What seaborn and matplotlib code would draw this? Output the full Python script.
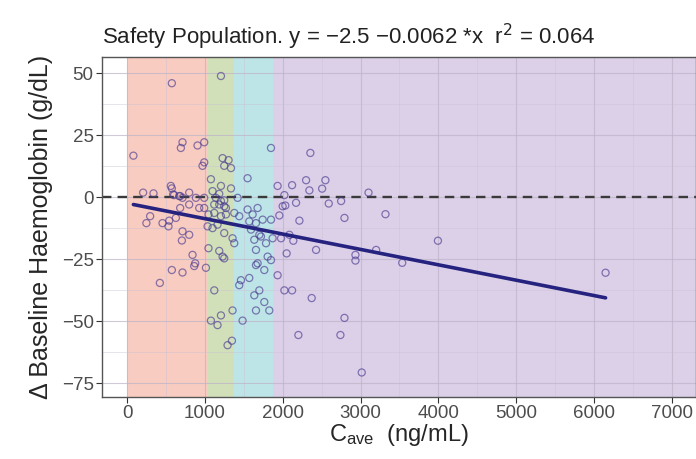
import numpy as np
import pandas as pd
import matplotlib
matplotlib.use("Agg")
import matplotlib.pyplot as plt
import matplotlib.ticker as mticker
import seaborn as sns

# Cave quartile bands (ng/mL) and their fill colours
band_edges = [0, 1040, 1370, 1880, 7400]
band_colors = ["#F9C8BC", "#CFDEB4", "#B8E3E5", "#D9CCE6"]

# regression shown in the title
intercept = -2.5
slope = -0.0062
r_squared = 0.064

# observed points: Cave (ng/mL) and change from baseline Hb (g/dL)
cave = [
    # first quartile
    575, 81, 712, 691, 905, 991, 969, 991, 562, 575, 206, 339, 592, 682, 798,
    712, 884, 991, 682, 798, 927, 296, 248, 455, 541, 627, 532, 798, 704, 841,
    875, 862, 575, 712, 421, 1013, 712, 991, 604, 669,
    # second quartile
    1206, 1227, 1304, 1248, 1335, 1077, 1206, 1335, 1098, 1184, 1141, 1206,
    1120, 1248, 1120, 1270, 1034, 1098, 1162, 1248, 1355, 1046, 1184, 1227,
    1248, 1120, 1077, 1162, 1206, 1291, 1347, 1184, 1248, 1270, 1046, 1206,
    # third quartile
    1548, 1849, 1420, 1377, 1441, 1548, 1613, 1677, 1570, 1656, 1742, 1849,
    1377, 1592, 1634, 1720, 1785, 1699, 1656, 1806, 1849, 1677, 1656, 1763,
    1463, 1570, 1441, 1699, 1634, 1763, 1656, 1827, 1355, 1484,
    # fourth quartile
    1934, 2355, 2120, 2300, 2342, 2506, 2548, 2021, 2033, 2171, 2591, 2750,
    3102, 3320, 1956, 2214, 2793, 1999, 1870, 1978, 2085, 2136, 2428, 2050,
    2934, 2934, 3200, 3535, 1934, 2021, 2120, 2372, 2793, 2201, 2741, 3015,
    3994, 6148,
]
delta_hb = [
    45.9, 16.7, 22.1, 19.8, 20.8, 22.1, 12.6, 14.0, 4.5, 3.5, 1.8, 1.5, 1.1, 0.4, 1.8,
    -0.3, -0.3, -0.3, -4.4, -3.0, -4.4, -7.7, -10.5, -10.5, -9.5, -8.4, -11.8, -15.2, -17.5, -23.3,
    -26.7, -27.8, -29.4, -30.4, -34.6, -28.5, -13.8, -4.4, 0.8, 0.4,
    48.8, 15.7, 14.9, 12.6, 11.7, 7.2, 4.5, 3.5, 2.4, 1.3, -0.3, -1.6,
    -3.0, -3.7, -6.4, -7.0, -11.8, -12.5, -11.1, -14.5, -16.6, -20.6, -21.7, -24.0,
    -24.7, -37.6, -49.8, -51.6, -47.7, -59.7, -57.9, -3.0, -1.3, -4.4, -7.0, -7.7,
    7.6, 19.8, -0.3, -6.4, -7.7, -5.0, -7.0, -4.4, -9.8, -10.5, -9.1, -9.1,
    -18.6, -13.1, -17.2, -15.9, -18.6, -15.2, -21.3, -24.0, -25.4, -26.7, -27.4, -29.4,
    -33.5, -32.6, -35.5, -37.6, -39.6, -42.3, -45.7, -45.7, -45.7, -49.8,
    4.5, 17.8, 4.8, 6.8, 2.7, 3.4, 6.8, 0.8, -3.4, -2.3, -2.6, -1.6,
    1.8, -6.9, -7.4, -9.5, -8.4, -3.7, -16.6, -16.6, -15.2, -17.6, -21.3, -22.7,
    -23.3, -25.6, -21.3, -26.5, -31.5, -37.6, -37.6, -40.7, -48.7, -55.6, -55.6, -70.7,
    -17.6, -30.5,
]

df = pd.DataFrame({"cave": cave, "dhb": delta_hb})
fit_x = np.array([min(cave), max(cave)])
fit = pd.DataFrame({"cave": fit_x, "dhb": intercept + slope * fit_x})

sns.set_theme(style="whitegrid")
plt.rcParams["font.family"] = ["Liberation Sans", "DejaVu Sans"]

fig = plt.figure(figsize=(6.96, 4.59), dpi=100)
ax = fig.add_axes([0.1466, 0.135, 0.8534, 0.741])
ax.set_facecolor("white")

for i in range(len(band_colors)):
    ax.axvspan(band_edges[i], band_edges[i + 1], color=band_colors[i], lw=0, zorder=0.5, alpha=0.92)

ax.axhline(0, color="#3a3a3a", lw=1.7, ls=(0, (4, 2.6)), zorder=2)

sns.scatterplot(data=df, x="cave", y="dhb", ax=ax, marker="o", s=26,
                facecolors="none", edgecolor="#4b3b90", linewidth=0.9,
                alpha=0.65, zorder=3, legend=False)
sns.lineplot(data=fit, x="cave", y="dhb", ax=ax, color="#25237f", lw=2.6, zorder=4)

ax.set_xlim(-322, 7310)
ax.set_ylim(-80.6, 56.5)
ax.xaxis.set_major_locator(mticker.MultipleLocator(1000))
ax.xaxis.set_minor_locator(mticker.MultipleLocator(500))
ax.yaxis.set_major_locator(mticker.MultipleLocator(25))
ax.yaxis.set_minor_locator(mticker.MultipleLocator(12.5))
ax.yaxis.set_major_formatter(mticker.FuncFormatter(lambda v, p: f"{v:.0f}".replace("-", "\u2212")))
ax.grid(which="major", color="#bdb3c8", lw=0.8, alpha=0.7)
ax.grid(which="minor", color="#c9c0d2", lw=0.5, alpha=0.6)
for gl in ax.get_xgridlines() + ax.get_ygridlines():
    gl.set_zorder(1)

ax.tick_params(axis="both", which="major", labelsize=13.5, labelcolor="#4d4d4d",
               length=4, color="#333333", bottom=True, left=True, width=0.8, pad=2)
ax.tick_params(which="minor", length=0)
for sp in ax.spines.values():
    sp.set_color("#555555")
    sp.set_linewidth(1.0)

ax.set_xlabel(r"$\mathregular{C_{ave}}$  (ng/mL)", fontsize=17, labelpad=0)
ax.set_ylabel("\u0394 Baseline Haemoglobin (g/dL)", fontsize=18, labelpad=6)
ax.set_title(f"Safety Population. y = \u22122.5 \u22120.0062 *x  r$^2$ = {r_squared}",
             fontsize=16, loc="left", pad=9, color="#222222")

fig.savefig("out.png", dpi=100)
